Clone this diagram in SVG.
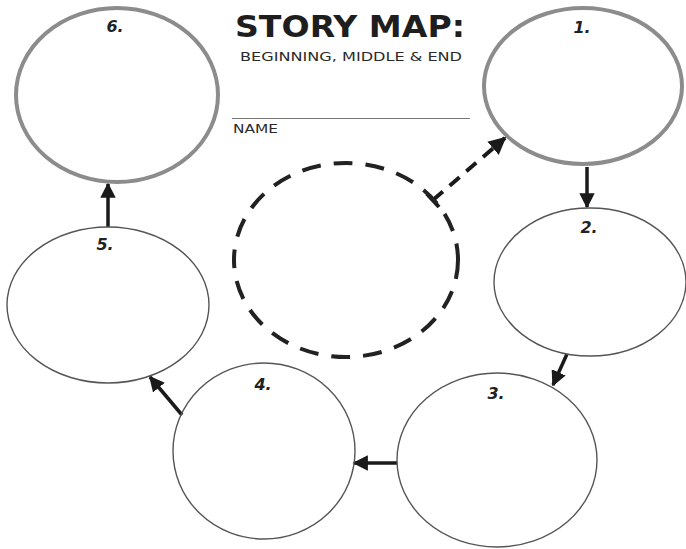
<svg xmlns="http://www.w3.org/2000/svg" width="686" height="549" viewBox="0 0 686 549">
<style>
.thick{fill:none;stroke:#8c8c8c;stroke-width:4}
.thin{fill:none;stroke:#555;stroke-width:1.4}
.dash{fill:none;stroke:#222;stroke-width:4;stroke-dasharray:19 13}
.num{font-family:"DejaVu Sans",sans-serif;font-weight:bold;font-style:italic;font-size:16px;fill:#222;text-anchor:middle}
.arr{fill:none;stroke:#1a1a1a;stroke-width:3.5}
.title{font-family:"DejaVu Sans",sans-serif;font-weight:bold;fill:#1e1e1e}
.sub{font-family:"DejaVu Sans",sans-serif;font-weight:normal;fill:#2a2a2a}
</style>
<defs>
<marker id="ah" viewBox="0 0 10 10" refX="9" refY="5" markerWidth="4.4" markerHeight="4.4" markerUnits="strokeWidth" orient="auto">
<path d="M0,0 L10,5 L0,10 Z" fill="#1a1a1a"/>
</marker>
</defs>
<rect width="686" height="549" fill="#fff"/>
<g id="title">
<text class="title" x="235" y="37" font-size="31" textLength="230" lengthAdjust="spacingAndGlyphs">STORY MAP:</text>
<text class="sub" x="240" y="61" font-size="13" textLength="222" lengthAdjust="spacingAndGlyphs">BEGINNING, MIDDLE &amp; END</text>
<line x1="232" y1="118.5" x2="470" y2="118.5" stroke="#777" stroke-width="1.2"/>
<text class="sub" x="233" y="133" font-size="11.5" textLength="45" lengthAdjust="spacingAndGlyphs">NAME</text>
</g>
<g id="connectors">
<line class="arr" x1="587" y1="167" x2="587" y2="207" marker-end="url(#ah)"/>
<line class="arr" x1="567" y1="354" x2="553" y2="385" marker-end="url(#ah)"/>
<line class="arr" x1="397" y1="463" x2="354" y2="463" marker-end="url(#ah)"/>
<line class="arr" x1="182" y1="415" x2="150" y2="377" marker-end="url(#ah)"/>
<line class="arr" x1="108" y1="227" x2="108" y2="184" marker-end="url(#ah)"/>
<line x1="433" y1="200" x2="505" y2="138" stroke="#1a1a1a" stroke-width="4" stroke-dasharray="13 9" marker-end="url(#ah)"/>
<line x1="427" y1="194" x2="439" y2="207" stroke="#1a1a1a" stroke-width="4"/>
</g>
<g id="node-center">
<ellipse class="dash" cx="346" cy="260" rx="112" ry="97"/>
</g>
<g id="node-1">
<ellipse class="thick" cx="583" cy="86" rx="99" ry="78"/>
<text class="num" x="582" y="33">1.</text>
</g>
<g id="node-2">
<ellipse class="thin" cx="590" cy="282" rx="96" ry="74"/>
<text class="num" x="589" y="233">2.</text>
</g>
<g id="node-3">
<ellipse class="thin" cx="497" cy="460" rx="100" ry="87"/>
<text class="num" x="496" y="399">3.</text>
</g>
<g id="node-4">
<ellipse class="thin" cx="264" cy="451" rx="91" ry="88"/>
<text class="num" x="263" y="390">4.</text>
</g>
<g id="node-5">
<ellipse class="thin" cx="108" cy="305" rx="101" ry="78"/>
<text class="num" x="105" y="250">5.</text>
</g>
<g id="node-6">
<ellipse class="thick" cx="117" cy="95" rx="101" ry="87"/>
<text class="num" x="115" y="32">6.</text>
</g>
</svg>
